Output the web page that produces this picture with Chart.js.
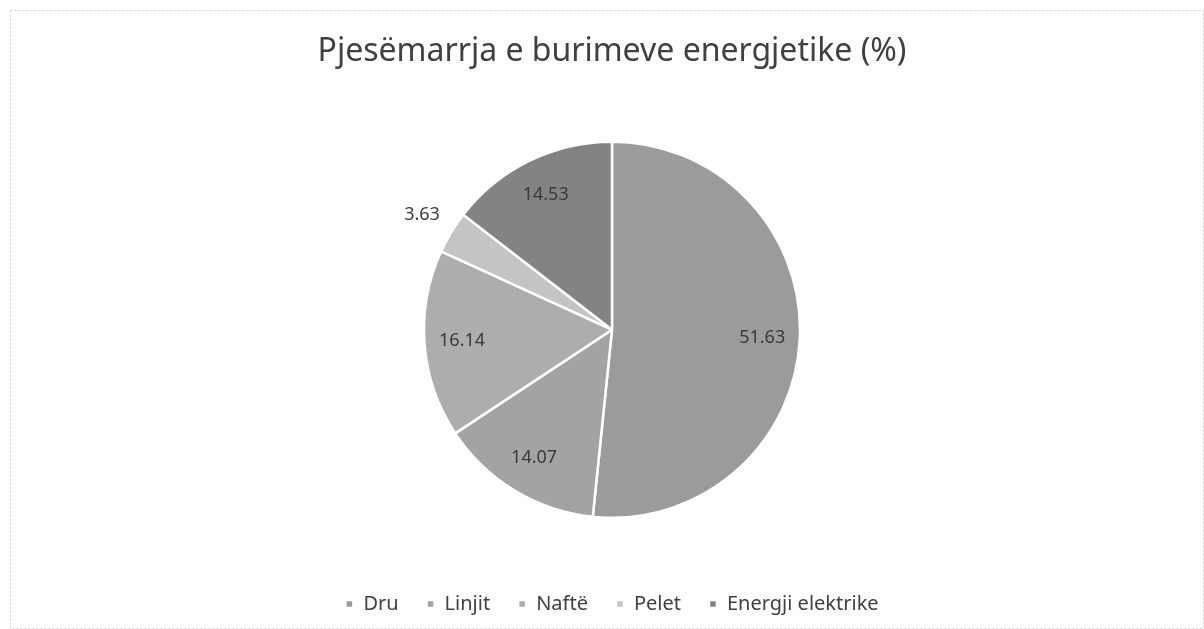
<!DOCTYPE html>
<html>
<head>
<meta charset="utf-8">
<script src="https://cdn.jsdelivr.net/npm/chart.js@4/dist/chart.umd.min.js"></script>
<style>
    body { margin: 0; background: #ffffff; }
    #wrap { width: 1204px; height: 629px; position: relative; }
</style>
</head>
<body>
<div id="wrap"><canvas id="energji-chart"></canvas></div>
<script>
// Data
const categories = ["Dru", "Linjit", "Naftë", "Pelet", "Energji elektrike"];
const values = [51.63, 14.07, 16.14, 3.63, 14.53];
const colors = ["#9b9b9b", "#a3a3a3", "#adadad", "#c4c4c4", "#838383"];

// Data labels: inside the slice, outside when the slice is small
const labelsPlugin = {
    id: "pieLabels",
    afterDatasetsDraw(chart) {
        const ctx = chart.ctx;
        const meta = chart.getDatasetMeta(0);
        ctx.save();
        ctx.font = "18px 'Noto Sans'";
        ctx.fillStyle = "#3a3a3a";
        ctx.textAlign = "center";
        ctx.textBaseline = "middle";
        meta.data.forEach((arc, i) => {
            const mid = (arc.startAngle + arc.endAngle) / 2;
            const r = values[i] < 5 ? arc.outerRadius + 34 : arc.outerRadius * 0.8;
            const x = arc.x + Math.cos(mid) * r;
            const y = arc.y + Math.sin(mid) * r;
            ctx.fillText(values[i].toFixed(2), x, y);
        });
        ctx.restore();
    }
};

// Light frame like the chart area border of the original
const framePlugin = {
    id: "frame",
    beforeDraw(chart) {
        const ctx = chart.ctx;
        ctx.save();
        ctx.strokeStyle = "#cfcfcf";
        ctx.lineWidth = 1;
        ctx.setLineDash([2, 2]);
        ctx.strokeRect(10.5, 10.5, chart.width - 11, chart.height - 11);
        ctx.restore();
    }
};

const ctx = document.getElementById("energji-chart").getContext("2d");
new Chart(ctx, {
    type: "pie",
    data: {
        labels: categories,
        datasets: [{
            data: values,
            backgroundColor: colors,
            borderColor: "#ffffff",
            borderWidth: 2.5,
            radius: 188,
        }],
    },
    options: {
        responsive: true,
        maintainAspectRatio: false,
        animation: false,
        layout: { padding: { left: 20, right: 0, top: 0, bottom: 5 } },
        plugins: {
            title: {
                display: true,
                text: "Pjesëmarrja e burimeve energjetike (%)",
                color: "#404040",
                font: { family: "'Noto Sans'", size: 32, weight: "normal" },
                padding: { top: 33, bottom: 22 },
            },
            legend: {
                position: "bottom",
                labels: {
                    color: "#404040",
                    font: { family: "'Noto Sans'", size: 20 },
                    boxWidth: 8,
                    boxHeight: 8,
                    padding: 28,
                },
            },
            tooltip: { enabled: false },
        },
    },
    plugins: [labelsPlugin, framePlugin],
});
</script>
</body>
</html>
